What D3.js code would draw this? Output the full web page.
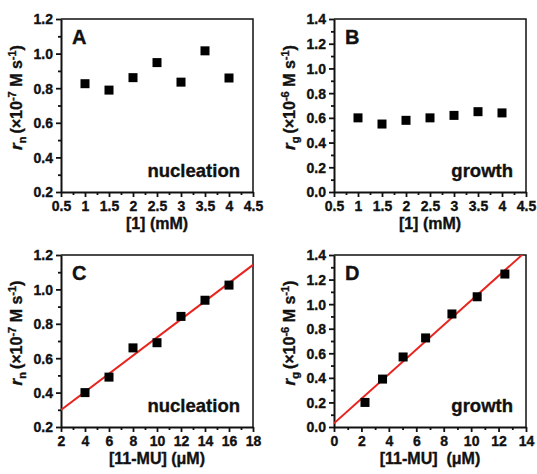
<!DOCTYPE html>
<html>
<head>
<meta charset="utf-8">
<script src="https://cdnjs.cloudflare.com/ajax/libs/d3/7.8.5/d3.min.js"></script>
<style>
  body { margin: 0; background: #fff; }
  svg { display: block; }
  svg text { font-family: "Liberation Sans", Arial, sans-serif; font-weight: bold; fill: #111; stroke: #111; stroke-width: 0.35px; }
</style>
</head>
<body>
<div id="chart"></div>
<script>
//------------------------------- Data -------------------------------

// top row: rate vs [1] (mM)
var conc1 = [1, 1.5, 2, 2.5, 3, 3.5, 4];
var nucleationA = [0.826, 0.789, 0.861, 0.948, 0.835, 1.016, 0.859];
var growthB = [0.60, 0.55, 0.58, 0.60, 0.62, 0.65, 0.64];

// bottom row: rate vs [11-MU] (uM)
var muC = [4, 6, 8, 10, 12, 14, 16];
var nucleationC = [0.40, 0.49, 0.66, 0.69, 0.843, 0.937, 1.025];
var muD = [2.26, 3.54, 5.04, 6.68, 8.6, 10.44, 12.46];
var growthD = [0.20, 0.39, 0.57, 0.725, 0.92, 1.06, 1.245];

var xTicks1 = [0.5, 1, 1.5, 2, 2.5, 3, 3.5, 4, 4.5];
var xTicksC = [2, 4, 6, 8, 10, 12, 14, 16, 18];
var xTicksD = [0, 2, 4, 6, 8, 10, 12, 14];
var yTicksN = [0.2, 0.4, 0.6, 0.8, 1.0, 1.2];
var yTicksG = [0, 0.2, 0.4, 0.6, 0.8, 1.0, 1.2, 1.4];

//------------------------------- SVG -------------------------------

var svg = d3.select("#chart").append("svg")
	.attr("width", 537)
	.attr("height", 474);

var panels = [
	{id: "A", box: [61, 253, 19, 192], x: conc1, y: nucleationA, xTicks: xTicks1, yTicks: yTicksN,
	 xFmt: d3.format(""), xTitle: "[1] (mM)", sub: "n", exp: "-7", note: "nucleation", fit: false},
	{id: "B", box: [334, 526, 19, 192], x: conc1, y: growthB, xTicks: xTicks1, yTicks: yTicksG,
	 xFmt: d3.format(""), xTitle: "[1] (mM)", sub: "g", exp: "-6", note: "growth", fit: false},
	{id: "C", box: [61, 253, 255, 427], x: muC, y: nucleationC, xTicks: xTicksC, yTicks: yTicksN,
	 xFmt: d3.format("d"), xTitle: "[11-MU] (\u03bcM)", sub: "n", exp: "-7", note: "nucleation", fit: true},
	{id: "D", box: [334, 526, 255, 427], x: muD, y: growthD, xTicks: xTicksD, yTicks: yTicksG,
	 xFmt: d3.format("d"), xTitle: "[11-MU]\u00a0\u00a0(\u03bcM)", sub: "g", exp: "-6", note: "growth", fit: true}
];

panels.forEach(drawPanel);

function drawPanel(p) {
	var left = p.box[0], right = p.box[1], top = p.box[2], bottom = p.box[3];
	var xExt = d3.extent(p.xTicks), yExt = d3.extent(p.yTicks);
	var x = d3.scaleLinear().domain(xExt).range([left, right]);
	var y = d3.scaleLinear().domain(yExt).range([bottom, top]);
	var xStep = p.xTicks[1] - p.xTicks[0], yStep = p.yTicks[1] - p.yTicks[0];

	var g = svg.append("g");

	//clip for the fit line
	g.append("clipPath").attr("id", "clip" + p.id)
		.append("rect")
		.attr("x", left).attr("y", top)
		.attr("width", right - left).attr("height", bottom - top);

	//frame top/right
	g.append("path")
		.attr("d", "M" + left + "," + top + "H" + right + "V" + bottom)
		.attr("fill", "none").attr("stroke", "#111").attr("stroke-width", 1.5);

	//x axis
	var xAxis = d3.axisBottom(x).tickValues(p.xTicks).tickFormat(p.xFmt).tickSize(5).tickSizeOuter(0);
	var xMinor = d3.axisBottom(x).tickValues(p.xTicks.slice(0, -1).map(function(d) { return d + xStep / 2; }))
		.tickFormat("").tickSize(3).tickSizeOuter(0);
	var xg = g.append("g").attr("transform", "translate(0," + bottom + ")").call(xAxis);
	g.append("g").attr("transform", "translate(0," + bottom + ")").call(xMinor)
		.select(".domain").remove();

	//y axis
	var yAxis = d3.axisLeft(y).tickValues(p.yTicks).tickFormat(d3.format(".1f")).tickSize(5).tickSizeOuter(0);
	var yMinor = d3.axisLeft(y).tickValues(p.yTicks.slice(0, -1).map(function(d) { return d + yStep / 2; }))
		.tickFormat("").tickSize(3).tickSizeOuter(0);
	var yg = g.append("g").attr("transform", "translate(" + left + ",0)").call(yAxis);
	g.append("g").attr("transform", "translate(" + left + ",0)").call(yMinor)
		.select(".domain").remove();

	g.selectAll(".domain").attr("stroke", "#111").attr("stroke-width", 2);
	g.selectAll(".tick line").attr("stroke", "#111").attr("stroke-width", 1.8);
	xg.selectAll(".tick text").style("font-size", "14px").attr("fill", null)
		.attr("y", 8).attr("dy", "0.8em");
	yg.selectAll(".tick text").style("font-size", "14px").attr("fill", null)
		.attr("x", -8).attr("dy", "0.35em");

	//fit line (least squares on the points)
	if (p.fit) {
		var mx = d3.mean(p.x), my = d3.mean(p.y);
		var sxy = d3.sum(p.x, function(d, i) { return (d - mx) * (p.y[i] - my); });
		var sxx = d3.sum(p.x, function(d) { return (d - mx) * (d - mx); });
		var slope = sxy / sxx, icpt = my - slope * mx;
		g.append("line")
			.attr("clip-path", "url(#clip" + p.id + ")")
			.attr("x1", x(xExt[0])).attr("y1", y(icpt + slope * xExt[0]))
			.attr("x2", x(xExt[1])).attr("y2", y(icpt + slope * xExt[1]))
			.attr("stroke", "#e8241f").attr("stroke-width", 2);
	}

	//points
	var sq = 9;
	g.selectAll(".pt")
		.data(p.x)
		.enter().append("rect")
		.attr("class", "pt")
		.attr("x", function(d) { return x(d) - sq / 2; })
		.attr("y", function(d, i) { return y(p.y[i]) - sq / 2; })
		.attr("width", sq).attr("height", sq)
		.attr("fill", "#000");

	//panel letter and note
	g.append("text")
		.style("font-size", "20px")
		.attr("x", left + 11).attr("y", top + 25)
		.text(p.id);
	g.append("text")
		.style("font-size", "18.5px")
		.attr("x", right - 13).attr("y", bottom - 15)
		.attr("text-anchor", "end")
		.text(p.note);

	//x title
	g.append("text")
		.style("font-size", "16px")
		.attr("x", (left + right) / 2).attr("y", bottom + 37)
		.attr("text-anchor", "middle")
		.text(p.xTitle);

	//y title
	var yt = g.append("text")
		.style("font-size", "16px")
		.attr("transform", "translate(" + (left - 39) + "," + ((top + bottom) / 2 - 8) + ") rotate(-90)")
		.attr("text-anchor", "middle");
	yt.append("tspan").style("font-style", "italic").style("font-size", "17px").text("r");
	yt.append("tspan").style("font-size", "11px").attr("dy", 4).text(p.sub);
	yt.append("tspan").attr("dy", -4).attr("dx", 3).text("(\u00d710");
	yt.append("tspan").style("font-size", "11px").attr("dy", -6).text(p.exp);
	yt.append("tspan").attr("dy", 6).text(" M s");
	yt.append("tspan").style("font-size", "11px").attr("dy", -6).text("-1");
	yt.append("tspan").attr("dy", 6).text(")");
}
</script>
</body>
</html>
